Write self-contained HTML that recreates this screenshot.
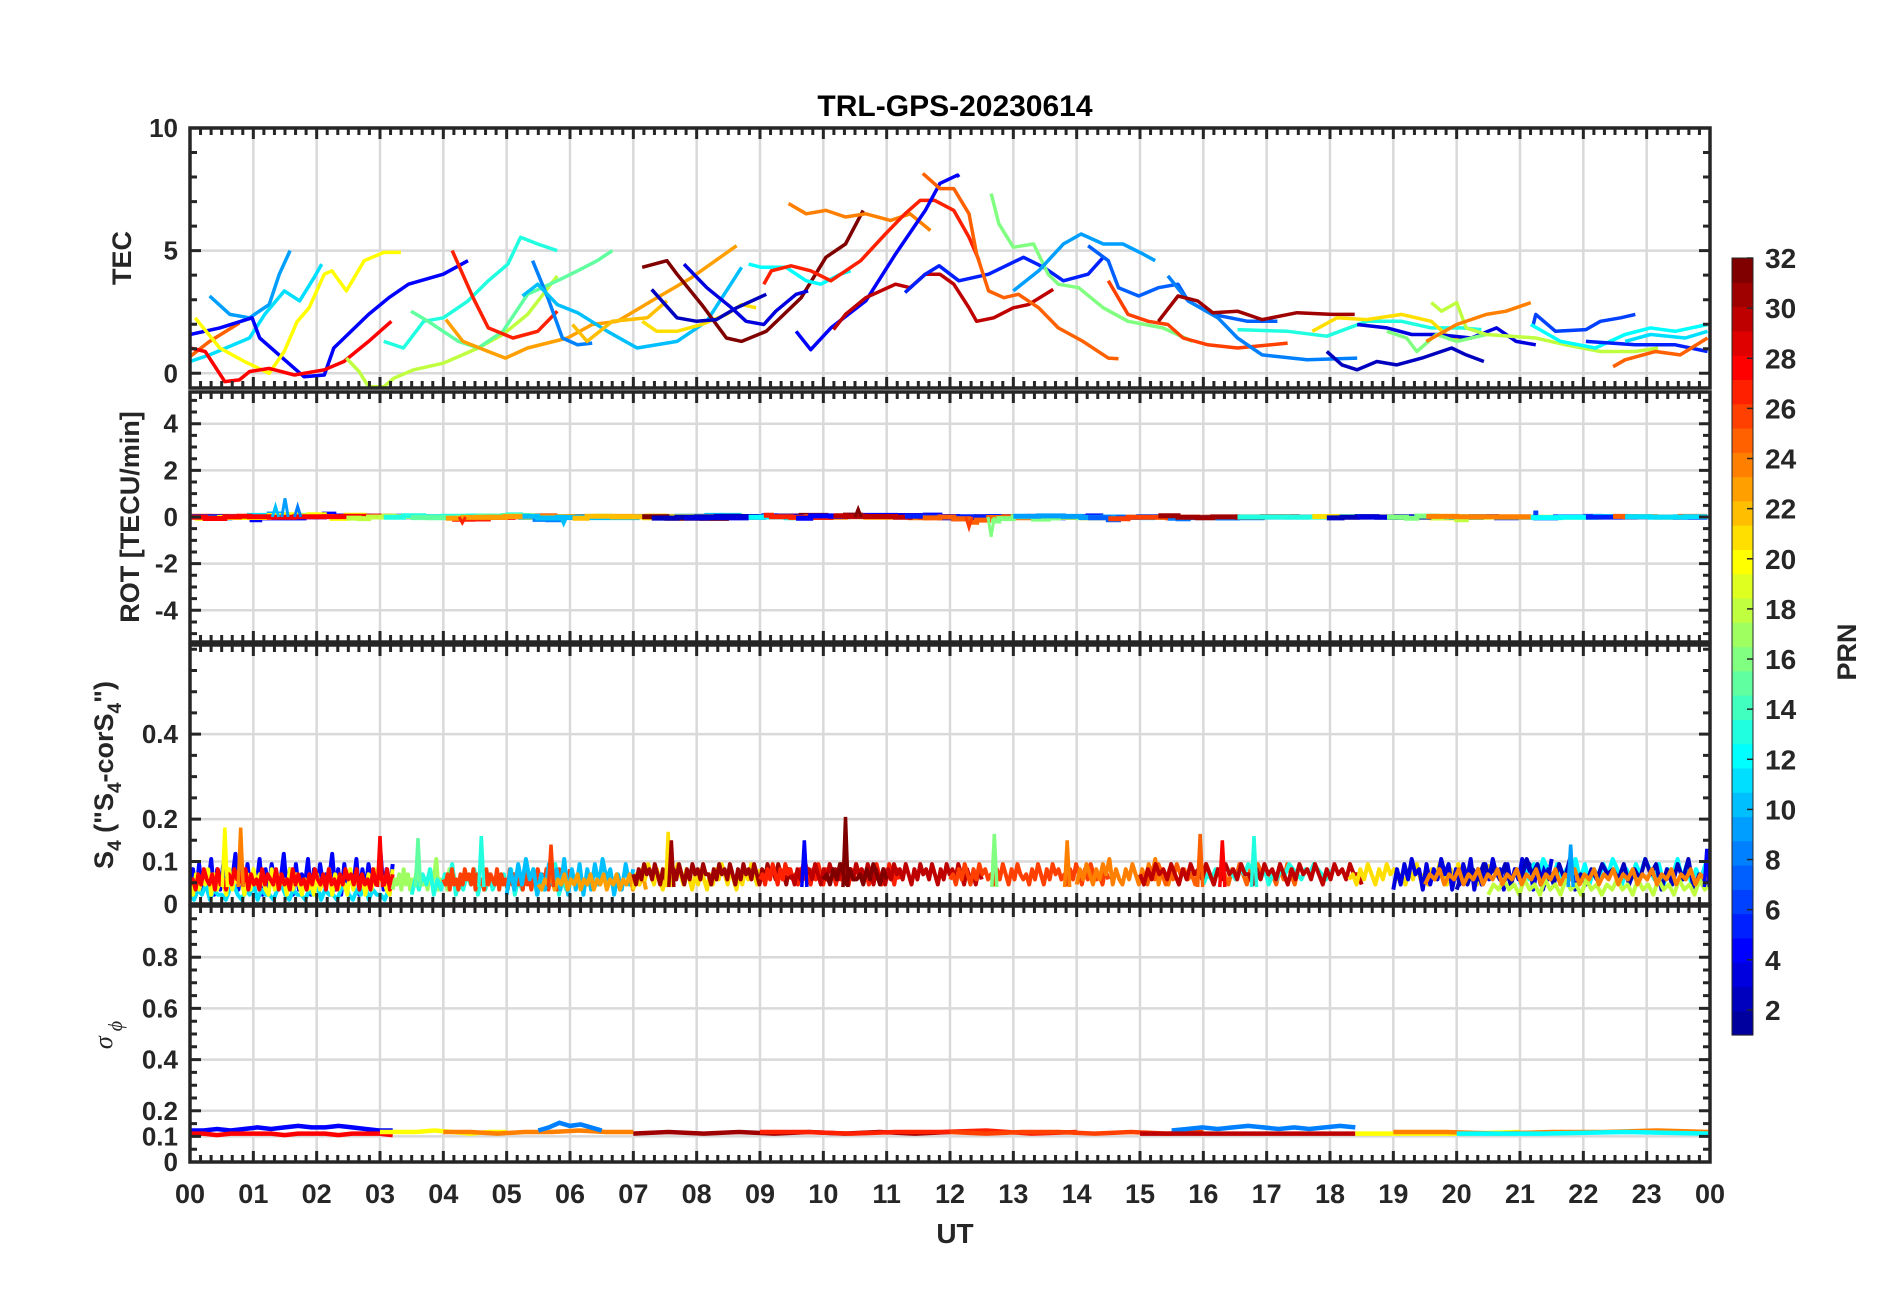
<!DOCTYPE html>
<html><head><meta charset="utf-8"><style>
html,body{margin:0;padding:0;background:#fff;}
svg{display:block;font-family:"Liberation Sans",Arial,sans-serif;font-weight:bold;}
</style></head><body>
<svg id="chart" width="1902" height="1292" viewBox="0 0 1902 1292" xmlns="http://www.w3.org/2000/svg">
<text x="955" y="116" font-size="30" text-anchor="middle" fill="#000">TRL-GPS-20230614</text>
<text x="955" y="1243" font-size="28" text-anchor="middle" fill="#262626">UT</text>
<text transform="translate(131,258) rotate(-90)" font-size="27" text-anchor="middle" fill="#262626">TEC</text>
<text transform="translate(139,517) rotate(-90)" font-size="27" text-anchor="middle" fill="#262626">ROT [TECU/min]</text>
<text transform="translate(113,775) rotate(-90)" font-size="27" text-anchor="middle" fill="#262626">S<tspan font-size="19" dy="8">4</tspan><tspan dy="-8"> ("S</tspan><tspan font-size="19" dy="8">4</tspan><tspan dy="-8">-corS</tspan><tspan font-size="19" dy="8">4</tspan><tspan dy="-8">")</tspan></text>
<text transform="translate(112,1035) rotate(-90)" font-size="26" text-anchor="middle" fill="#262626" font-family="'Liberation Serif',serif" font-style="italic" font-weight="normal">σ<tspan font-size="20" dy="10"> ϕ</tspan></text>
<text transform="translate(1856,652) rotate(-90)" font-size="27" text-anchor="middle" fill="#262626">PRN</text>
<g id="layer"></g>
</svg>
<script>
// ---------- data ----------
// TEC traces: [prn, hour,tec, hour,tec, ...]
const tecTraces = [
 [9, 0.31,3.15, 0.63,2.4, 0.94,2.26, 1.25,2.8, 1.41,4.04, 1.58,5.0],
 [11, 0,0.48, 0.31,0.75, 0.94,1.44, 1.18,2.4, 1.49,3.36, 1.73,2.95, 1.96,3.9, 2.08,4.45],
 [25, 0,0.68, 0.31,1.3, 0.78,2.05],
 [4, 0,1.58, 0.47,1.85, 0.98,2.26, 1.1,1.44, 1.65,0.2, 1.8,-0.14, 2.12,-0.07, 2.27,1.03, 2.82,2.4, 3.14,3.08, 3.45,3.63, 4.0,4.04, 4.39,4.59],
 [20, 0.08,2.26, 0.47,1.03, 0.86,0.48, 1.25,0, 1.49,0.9, 1.69,2.1, 1.88,2.67, 2.12,4.04, 2.24,4.18, 2.47,3.36, 2.75,4.59, 3.06,4.93, 3.33,4.93],
 [28, 0,1.03, 0.24,0.89, 0.55,-0.34, 0.78,-0.27, 0.94,0.07, 1.25,0.2, 1.65,-0.07, 2.12,0.14, 2.43,0.48, 2.82,1.3, 3.18,2.12],
 [18, 2.47,0.62, 2.67,0.07, 2.82,-0.55, 3.06,-0.55, 3.22,-0.2, 3.53,0.14, 4.0,0.41, 4.55,1.03, 4.94,1.58, 5.33,2.4, 5.8,3.97],
 [13, 3.06,1.3, 3.37,1.03, 3.69,2.12, 4.0,2.26, 4.39,2.95, 4.71,3.77, 5.02,4.45, 5.22,5.55, 5.49,5.27, 5.8,5.0],
 [15, 3.49,2.53, 3.76,2.12, 4.24,1.3, 4.55,1.03, 4.94,1.71, 5.33,3.22, 5.8,3.77, 6.12,4.18, 6.43,4.59, 6.67,5.0],
 [27, 4.14,5.0, 4.47,3.08, 4.71,1.85, 5.1,1.44, 5.49,1.71, 5.8,2.53],
 [23, 4.04,2.19, 4.31,1.3, 4.71,0.89, 4.98,0.62, 5.33,1.03, 5.96,1.44, 6.35,1.99, 6.75,2.12, 7.29,2.95, 7.92,3.9, 8.63,5.2],
 [8, 5.41,4.59, 5.65,3.08, 5.88,1.44, 6.12,1.16, 6.35,1.23],
 [10, 5.25,3.15, 5.49,3.63, 5.8,2.8, 6.12,2.47, 6.59,1.71, 7.06,1.03, 7.69,1.3, 8.16,2.12, 8.71,4.32],
 [22, 6.04,1.99, 6.27,1.3, 6.67,2.12, 7.22,2.26, 7.53,2.95],
 [21, 7.14,2.12, 7.37,1.71, 7.69,1.71, 8.08,1.99, 8.47,2.4, 8.71,2.8, 8.94,2.67],
 [32, 7.14,4.32, 7.53,4.59, 7.69,4.04, 8.08,2.8, 8.47,1.44, 8.71,1.3, 9.1,1.71, 9.65,3.08, 10.04,4.73, 10.35,5.27, 10.63,6.64],
 [2, 7.29,3.42, 7.69,2.26, 8.0,2.12, 8.31,2.19, 8.63,2.67, 9.1,3.22],
 [3, 7.8,4.45, 8.16,3.49, 8.55,2.67, 8.78,2.12, 9.06,1.99, 9.25,2.53, 9.57,3.22, 9.76,3.36],
 [12, 8.82,4.45, 9.02,4.32, 9.41,4.32, 9.73,3.77, 9.96,3.63, 10.27,4.04, 10.43,4.18],
 [24, 9.45,6.92, 9.73,6.5, 10.04,6.64, 10.35,6.37, 10.67,6.5, 11.06,6.23, 11.37,6.5, 11.69,5.82],
 [27, 9.06,3.63, 9.18,4.18, 9.49,4.38, 9.8,4.18, 10.12,3.77, 10.59,4.59, 10.98,5.68, 11.29,6.5, 11.53,7.05, 11.76,7.05, 12.06,6.64, 12.3,5.55, 12.46,4.59],
 [4, 9.57,1.71, 9.8,0.96, 10.12,1.85, 10.67,2.95, 11.14,4.86, 11.61,6.64, 11.84,7.74, 12.12,8.08, 12.14,8.0],
 [30, 10.16,1.78, 10.35,2.4, 10.67,3.08, 11.14,3.63, 11.37,3.49, 11.61,4.04, 11.84,4.04, 12.06,3.63, 12.3,2.67, 12.42,2.12, 12.69,2.26, 13.0,2.67, 13.24,2.8, 13.63,3.42],
 [5, 11.29,3.29, 11.61,4.04, 11.83,4.38, 12.14,3.77, 12.61,4.04, 13.16,4.73, 13.48,4.32, 13.79,3.77, 14.18,4.04, 14.42,4.73],
 [25, 11.57,8.15, 11.84,7.53, 12.06,7.53, 12.3,6.5, 12.42,4.86, 12.61,3.36, 12.85,3.08, 13.08,3.22, 13.4,2.67, 13.71,1.85, 14.1,1.3, 14.5,0.62, 14.66,0.59],
 [16, 12.65,7.33, 12.77,6.1, 13.0,5.14, 13.32,5.27, 13.55,4.04, 13.71,3.63, 14.03,3.49, 14.42,2.67, 14.81,2.12, 15.36,1.85, 15.83,1.3],
 [9, 13.0,3.36, 13.4,4.18, 13.79,5.27, 14.07,5.68, 14.42,5.27, 14.73,5.27, 15.05,4.86, 15.24,4.59],
 [7, 14.18,5.2, 14.5,4.59, 14.66,3.49, 14.98,3.15, 15.29,3.49, 15.6,3.63, 15.76,2.95, 16.15,2.4, 16.7,2.12, 17.17,2.12],
 [26, 14.5,3.77, 14.81,2.4, 15.13,2.12, 15.44,1.99, 15.68,1.44, 16.07,1.16, 16.54,1.03, 17.33,1.23],
 [8, 15.44,3.97, 15.76,2.95, 16.23,2.26, 16.54,1.44, 16.93,0.75, 17.64,0.55, 18.43,0.62],
 [31, 15.29,2.12, 15.6,3.15, 15.91,2.95, 16.15,2.47, 16.54,2.53, 16.93,2.19, 17.48,2.47, 18.03,2.4, 18.39,2.4],
 [13, 16.54,1.78, 17.33,1.71, 17.95,1.51, 18.58,2.12, 19.13,2.12, 19.6,1.85, 20.07,1.85, 20.39,1.78],
 [21, 17.72,1.71, 18.11,2.26, 18.58,2.19, 19.13,2.4, 19.6,2.12, 19.92,1.37, 20.15,1.44],
 [2, 17.95,0.89, 18.19,0.34, 18.43,0.14, 18.74,0.48, 19.05,0.34, 19.45,0.62, 19.92,1.03, 20.15,0.75, 20.43,0.48],
 [3, 18.43,1.99, 18.9,1.85, 19.29,1.58, 19.68,1.58, 20.23,1.44, 20.63,1.85, 20.94,1.3, 21.25,1.16],
 [16, 18.9,1.71, 19.21,1.44, 19.37,0.89, 19.68,1.58, 20.0,1.3, 20.47,1.58],
 [18, 19.6,2.88, 19.76,2.53, 20.0,2.88, 20.15,1.85, 20.47,1.58, 21.25,1.44, 21.72,1.16, 22.27,0.89, 22.82,0.89, 23.18,1.03],
 [24, 19.52,1.3, 20.0,1.99, 20.47,2.4, 20.78,2.53, 21.17,2.88],
 [6, 21.21,1.99, 21.25,2.4, 21.56,1.71, 22.04,1.78, 22.27,2.12, 22.59,2.26, 22.82,2.4],
 [12, 21.17,1.99, 21.64,1.3, 22.19,1.03, 22.66,1.58, 23.06,1.85, 23.45,1.71, 23.96,1.99],
 [5, 22.04,1.3, 22.82,1.16, 23.45,1.16, 23.96,0.89],
 [25, 22.47,0.27, 22.66,0.55, 23.14,0.89, 23.53,0.75, 23.96,1.44],
 [11, 22.66,1.3, 23.06,1.58, 23.61,1.44, 23.96,1.71]
];
// ROT spikes: [prn, hour, value]
const rotSpikes = [[10,1.35,0.45],[9,1.5,0.8],[8,1.7,0.45],[10,5.9,-0.3],[32,10.55,0.35],[26,12.3,-0.45],[16,12.65,-0.85],[27,4.3,-0.25]];
// S4 segments: [prn, start hour, end hour, digit string]  value = 0.01 + d*0.012
const s4Segments = [
 [4,0,3.2,"26172538162735492617253816273549261725381627354926172538162735492617"],
 [11,0,3.2,"1021302110231021302110231021102130211023102130211023"],
 [20,0,3.2,"31524361524316253415263542162534162531423152436152431625341526354216"],
 [28,0,3.2,"34253643526342536453625342635436253426353425364352634253645362534263543625"],
 [17,3.2,4.2,"243526352436253426358243526352"],
 [13,3.5,6,"14253614253714253614252435261425361425371425"],
 [26,4,6,"435263425364536253426354362534263543526342536453625342635436"],
 [10,5,7,"1627384615273628162716273846152736"],
 [23,5.5,7.2,"3243524352435243524352435243524352"],
 [21,7,9,"25364753642536475364253642536475364253647536"],
 [31,7,9.5,"536475647536475647536475647553647564753647564753647564755364"],
 [27,9,11.2,"45364753647564536475364753644536475364756453647536475364"],
 [30,9.5,12.5,"536475647536475647536475647536453647564753647564753647564753645364"],
 [32,10,11,"45364753644536475364"],
 [26,12,14.5,"4536475364756453647536475453647536475645364753647545364"],
 [24,14,15.5,"364753647583643647536475836436"],
 [25,15,17.5,"45364753647564536475364536475364756453647536"],
 [13,16,18,"35465765465765463546576546576546"],
 [30,15,18.5,"5364756475364756475364756475536475647536475647536475647553"],
 [21,18.3,20.5,"45364753647564536474536475364756453647"],
 [3,19,21.5,"26374856273648572637482637485627364857263748"],
 [12,21,24,"364758647365847364758636475864736584736475"],
 [2,20,24,"253647564736485726374825364756473648572637482536"],
 [18,20.5,24,"13242314231423142314231324231423142314231423"],
 [24,19.5,24,"354635463546354635463546354635463546354635463546354635463546"]
];
// S4 spikes: [prn, hour, value]
const s4Spikes = [[20,0.55,0.18],[24,0.8,0.18],[28,3.0,0.16],[15,3.6,0.155],[13,4.6,0.16],[26,5.7,0.14],[21,7.55,0.17],[31,7.6,0.15],[4,9.7,0.15],[32,10.35,0.205],[16,12.7,0.165],[24,13.85,0.15],[25,15.95,0.165],[13,16.8,0.16],[28,16.3,0.15],[9,21.8,0.14],[4,23.95,0.13]];
// sigma-phi segments: [prn, start, end, digits] value = 0.105 + d*0.006
const sigSegments = [
 [4,0,3.2,"3343454565565433"],
 [28,0,3.2,"1101111011101110"],
 [20,3,5,"22232122"],
 [24,4,7,"22122322"],
 [8,5.5,6.5,"3586753"],
 [31,7,12,"1212121212"],
 [27,9,14,"22122312"],
 [26,12,16,"21221212"],
 [8,15.5,18.4,"3454565454565"],
 [30,15,18.4,"11111"],
 [20,18.4,21,"1112"],
 [24,19,24,"2212232"],
 [12,20,24,"1121"]
];
const hourLabels = ["00","01","02","03","04","05","06","07","08","09","10","11","12","13","14","15","16","17","18","19","20","21","22","23","00"];
const prnTicks = [2,4,6,8,10,12,14,16,18,20,22,24,26,28,30,32];

// ---------- layout ----------
const NS="http://www.w3.org/2000/svg";
const layer=document.getElementById('layer');
const X0=190, X1=1710;
const xs = h => X0 + h*(X1-X0)/24;
const panels = [
 {name:'tec', top:128, bot:388, min:-0.6, max:10, labels:[0,5,10], grid:[0,5], minor:1},
 {name:'rot', top:392, bot:642, min:-5.36, max:5.36, labels:[-4,-2,0,2,4], grid:[-4,-2,0,2,4], minor:0.5},
 {name:'s4', top:645, bot:904, min:0, max:0.61, labels:[0,0.1,0.2,0.4], grid:[0.1,0.2,0.4], minor:0.05},
 {name:'sigma-phi', top:906, bot:1162, min:0, max:1, labels:[0,0.1,0.2,0.4,0.6,0.8], grid:[0.1,0.2,0.4,0.6,0.8], minor:0.05}
];
panels.forEach(p=>{p.y=v=>p.bot-(v-p.min)/(p.max-p.min)*(p.bot-p.top);});

function jet(k){ // MATLAB jet(32)
  const u=[];for(let i=1;i<=8;i++)u.push(i/8);for(let i=0;i<7;i++)u.push(1);for(let i=8;i>=1;i--)u.push(i/8);
  const R=k>=13?u[k-13]:0, G=(k>=5&&k<=27)?u[k-5]:0, B=k<=19?u[k+3]:0;
  return `rgb(${Math.round(R*255)},${Math.round(G*255)},${Math.round(B*255)})`;
}
function el(tag,attrs,parent){const e=document.createElementNS(NS,tag);for(const k in attrs)e.setAttribute(k,attrs[k]);(parent||layer).appendChild(e);return e;}

panels.forEach((p,pi)=>{
  const g=el('g',{});
  
  
  for(let h=1;h<24;h++){
    const l=el('line',{x1:xs(h),x2:xs(h),y1:p.top,y2:p.bot,stroke:'#d9d9d9','stroke-width':2.5},g);
    
    
  }
  p.grid.forEach(v=>{
    const l=el('line',{x1:X0,x2:X1,y1:p.y(v),y2:p.y(v),stroke:'#d9d9d9','stroke-width':2.5},g);
    
    
  });
});

const defs=el('defs',{});
panels.forEach((p,i)=>{const c=el('clipPath',{id:'clip'+i},defs);el('rect',{x:X0,y:p.top,width:X1-X0,height:p.bot-p.top},c);});

// TEC
const tg=el('g',{'clip-path':'url(#clip0)'});
tecTraces.forEach(t=>{
  const prn=t[0];let d='';
  for(let i=1;i<t.length;i+=2)d+=(i==1?'M':'L')+xs(t[i]).toFixed(1)+','+panels[0].y(t[i+1]).toFixed(1);
  const pth=el('path',{d:d,fill:'none',stroke:jet(prn),'stroke-width':3.5,'stroke-linejoin':'round'},tg);
  
  
});
// ROT derived from TEC slopes
const rg=el('g',{'clip-path':'url(#clip1)'});
tecTraces.forEach(t=>{
  const prn=t[0];let d='';
  for(let i=1;i<t.length-2;i+=2){
    const r=(t[i+3]-t[i+1])/((t[i+2]-t[i])*60||1);
    d+=(i==1?'M':'L')+xs(t[i]).toFixed(1)+','+panels[1].y(r).toFixed(1)+'L'+xs(t[i+2]).toFixed(1)+','+panels[1].y(r).toFixed(1);
  }
  const pth=el('path',{d:d,fill:'none',stroke:jet(prn),'stroke-width':5},rg);
  
  
});
rotSpikes.forEach(s=>{
  const p=panels[1];
  const pth=el('path',{d:`M${xs(s[1]-0.05)},${p.y(0)}L${xs(s[1])},${p.y(s[2])}L${xs(s[1]+0.05)},${p.y(0)}`,fill:'none',stroke:jet(s[0]),'stroke-width':3},rg);
  
  
});
// S4
const sg=el('g',{'clip-path':'url(#clip2)'});
s4Segments.forEach(s=>{
  const [prn,t0,t1,str]=s;const n=str.length;let d='';
  for(let i=0;i<n;i++){const h=t0+(t1-t0)*i/(n-1);const v=0.01+(+str[i])*0.012;d+=(i?'L':'M')+xs(h).toFixed(1)+','+panels[2].y(v).toFixed(1);}
  const pth=el('path',{d:d,fill:'none',stroke:jet(prn),'stroke-width':4,'stroke-linejoin':'round'},sg);
  
  
});
s4Spikes.forEach(s=>{
  const p=panels[2];
  const pth=el('path',{d:`M${xs(s[1]-0.04)},${p.y(0.04)}L${xs(s[1])},${p.y(s[2])}L${xs(s[1]+0.04)},${p.y(0.04)}`,fill:'none',stroke:jet(s[0]),'stroke-width':3.5},sg);
  
  
});
// sigma phi
const qg=el('g',{'clip-path':'url(#clip3)'});
sigSegments.forEach(s=>{
  const [prn,t0,t1,str]=s;const n=str.length;let d='';
  for(let i=0;i<n;i++){const h=t0+(t1-t0)*i/(n-1);const v=0.105+(+str[i])*0.006;d+=(i?'L':'M')+xs(h).toFixed(1)+','+panels[3].y(v).toFixed(1);}
  const pth=el('path',{d:d,fill:'none',stroke:jet(prn),'stroke-width':4.5},qg);
  
  
});

// axes, ticks, labels
panels.forEach((p,pi)=>{
  const g=el('g',{});
  
  
  let d='';
  for(let m=0;m<=144;m++){const x=xs(m/6);const L=(m%6==0)?11:7;d+=`M${x},${p.top}v${L}M${x},${p.bot}v${-L}`;}
  for(let v=Math.ceil(p.min/p.minor-1e-9)*p.minor;v<=p.max+1e-9;v+=p.minor){
    const y=p.y(v);const major=p.labels.some(l=>Math.abs(l-v)<1e-6);const L=major?11:7;
    d+=`M${X0},${y}h${L}M${X1},${y}h${-L}`;
  }
  el('path',{d:d,stroke:'#262626','stroke-width':3,fill:'none'},g);
  el('rect',{x:X0,y:p.top,width:X1-X0,height:p.bot-p.top,fill:'none',stroke:'#262626','stroke-width':3.5},g);
  p.labels.forEach(v=>{
    const t=el('text',{x:178,y:p.y(v)+9,'font-size':26,'text-anchor':'end',fill:'#262626'},g);
    t.textContent=String(v);
    
    
  });
});
// x labels
hourLabels.forEach((s,i)=>{
  const t=el('text',{x:xs(i),y:1203,'font-size':27,'text-anchor':'middle',fill:'#262626'});
  t.textContent=s;
  
  
});
// colorbar
const cb=el('g',{});


const CT=258, CB=1035, CX=1732, CW=21;
const cy=v=>CB-(v-1)/31*(CB-CT);
for(let k=1;k<=32;k++){
  const y0=CB-(k)*(CB-CT)/32;
  el('rect',{x:CX,y:y0,width:CW,height:(CB-CT)/32+0.6,fill:jet(k)},cb);
}
el('rect',{x:CX,y:CT,width:CW,height:CB-CT,fill:'none',stroke:'#262626','stroke-width':1},cb);
prnTicks.forEach(v=>{
  el('line',{x1:CX+CW-6,x2:CX+CW,y1:cy(v),y2:cy(v),stroke:'#262626','stroke-width':1.5},cb);
  const t=el('text',{x:1765,y:cy(v)+10,'font-size':28,fill:'#262626'},cb);
  t.textContent=String(v);
  
  
});
</script>
</body></html>
